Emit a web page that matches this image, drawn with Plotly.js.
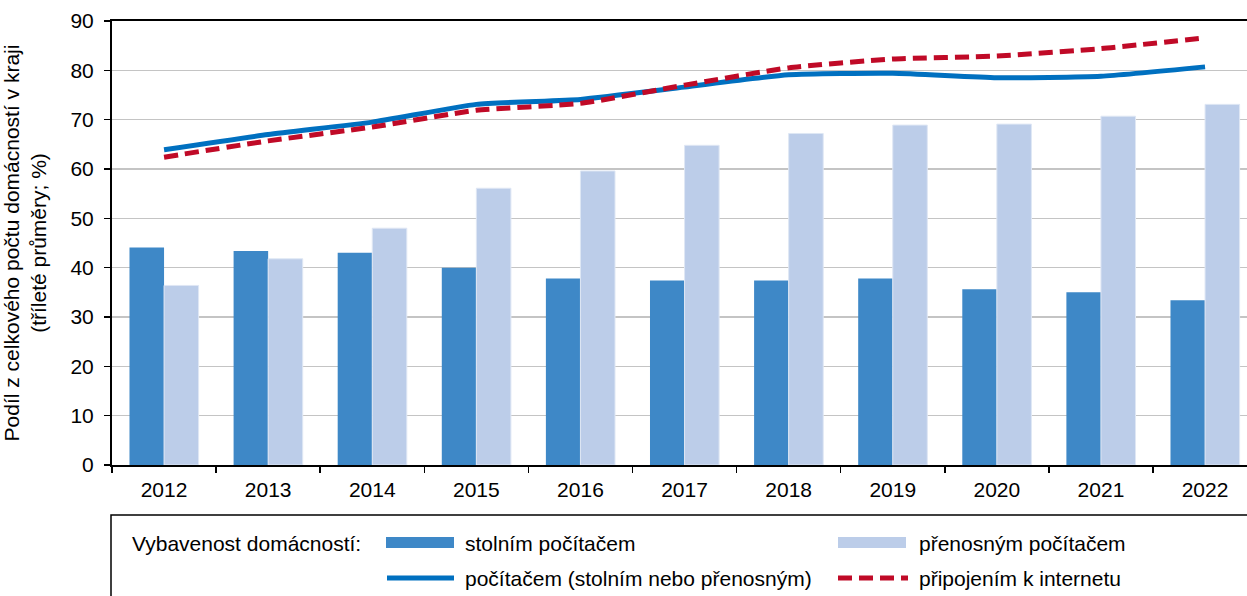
<!DOCTYPE html>
<html>
<head>
<meta charset="utf-8">
<script src="https://cdn.plot.ly/plotly-3.0.1.min.js"></script>
<style>
  html, body { margin: 0; padding: 0; background: #fff; }
  #chart { width: 1247px; height: 596px; }
</style>
</head>
<body>
<div id="chart"></div>
<script>
// ---- data ----
const years = ['2012','2013','2014','2015','2016','2017','2018','2019','2020','2021','2022'];
const desktop  = [44.1, 43.4, 43.0, 40.0, 37.8, 37.4, 37.4, 37.8, 35.6, 35.0, 33.4];
const laptop   = [36.4, 41.8, 48.0, 56.1, 59.6, 64.8, 67.2, 68.9, 69.1, 70.7, 73.1];
const computer = [63.9, 67.0, 69.5, 73.1, 74.1, 76.6, 79.1, 79.4, 78.5, 78.8, 80.7];
const internet = [62.4, 65.7, 68.5, 71.9, 73.3, 77.0, 80.5, 82.3, 82.9, 84.4, 86.6];

const seriesNames = ['stolním počítačem', 'přenosným počítačem',
                     'počítačem (stolním nebo přenosným)', 'připojením k internetu'];
const legendTitle = 'Vybavenost domácností:';
const yTitle = 'Podíl z celkového počtu domácností v kraji<br>(tříleté průměry; %)';

// ---- styling ----
const FONT = 'Arial, "Liberation Sans", sans-serif';
const FS = 21;
const C_DESK = '#3e88c7';
const C_LAP  = '#bccde9';
const C_PC   = '#0070c0';
const C_NET  = '#c00a27';

const W = 1247, H = 596;
const M = {l: 112, r: 0, t: 21, b: 131};
const PW = W - M.l - M.r, PH = H - M.t - M.b;
const px = v => (v - M.l) / PW;           // pixel x -> paper x
const py = v => (H - M.b - v) / PH;        // pixel y -> paper y

const traces = [
  {type: 'bar', x: years, y: desktop, name: seriesNames[0],
   marker: {color: C_DESK, line: {width: 0}}, hoverinfo: 'x+y+name'},
  {type: 'bar', x: years, y: laptop, name: seriesNames[1],
   marker: {color: C_LAP, line: {color: '#dfe7f4', width: 1}}, hoverinfo: 'x+y+name'},
  {type: 'scatter', mode: 'lines', x: years, y: computer, name: seriesNames[2],
   line: {color: C_PC, width: 5, shape: 'spline', smoothing: 0.5}},
  {type: 'scatter', mode: 'lines', x: years, y: internet, name: seriesNames[3],
   line: {color: C_NET, width: 5, dash: '14px,7px', shape: 'spline', smoothing: 0.5}}
];

// manual legend (box with title on the left, 2 x 2 entries)
const row1 = 543, row2 = 578;
const col1 = 386, col2 = 838, swW = 68;
const shapes = [
  {type: 'rect', xref: 'paper', yref: 'paper', x0: px(111), x1: px(1300), y0: py(515), y1: py(640),
   line: {color: '#000', width: 1.5}, fillcolor: 'rgba(0,0,0,0)', layer: 'above'},
  {type: 'rect', xref: 'paper', yref: 'paper', x0: px(col1), x1: px(col1 + swW), y0: py(row1 - 6), y1: py(row1 + 5),
   line: {width: 0}, fillcolor: C_DESK},
  {type: 'rect', xref: 'paper', yref: 'paper', x0: px(col2), x1: px(col2 + swW), y0: py(row1 - 6), y1: py(row1 + 5),
   line: {width: 0}, fillcolor: C_LAP},
  {type: 'line', xref: 'paper', yref: 'paper', x0: px(col1 + 1), x1: px(col1 + swW), y0: py(row2), y1: py(row2),
   line: {color: C_PC, width: 5}},
  {type: 'line', xref: 'paper', yref: 'paper', x0: px(col2), x1: px(col2 + swW + 2), y0: py(row2), y1: py(row2),
   line: {color: C_NET, width: 5, dash: '14px,7px'}}
];
const legFont = {family: FONT, size: FS, color: '#000'};
const ann = (x, y, t) => ({xref: 'paper', yref: 'paper', x: px(x), y: py(y), text: t,
  showarrow: false, xanchor: 'left', yanchor: 'middle', font: legFont, borderpad: 0});
const annotations = [
  ann(131, row1, legendTitle),
  ann(464, row1, seriesNames[0]),
  ann(918, row1, seriesNames[1]),
  ann(464, row2, seriesNames[2]),
  ann(918, row2, seriesNames[3])
];

const nCatVisible = PW / 104.1;
const layout = {
  width: W, height: H,
  margin: M,
  paper_bgcolor: '#fff', plot_bgcolor: '#fff',
  font: {family: FONT, size: FS, color: '#000'},
  showlegend: false,
  barmode: 'group', bargap: 0.336, bargroupgap: 0,
  xaxis: {
    type: 'category', range: [-0.5, -0.5 + nCatVisible],
    tickson: 'boundaries', ticks: 'outside', ticklen: 6, tickwidth: 1.5, tickcolor: '#000',
    showline: true, linecolor: '#000', linewidth: 2, mirror: true,
    showgrid: false, zeroline: false,
    tickfont: {family: FONT, size: FS, color: '#000'}, ticklabelstandoff: 5
  },
  yaxis: {
    range: [0, 90], dtick: 10, tick0: 0,
    ticks: 'outside', ticklen: 6, tickwidth: 1.5, tickcolor: '#000',
    showline: true, linecolor: '#000', linewidth: 2,
    showgrid: true, gridcolor: '#c4c4c4', gridwidth: 1.5, zeroline: false,
    tickfont: {family: FONT, size: FS, color: '#000'}, ticklabelstandoff: 6,
    title: {text: yTitle, font: {family: FONT, size: FS, color: '#000'}, standoff: 20}
  },
  shapes: shapes,
  annotations: annotations
};

Plotly.newPlot('chart', traces, layout, {displayModeBar: false, staticPlot: true});
</script>
</body>
</html>
